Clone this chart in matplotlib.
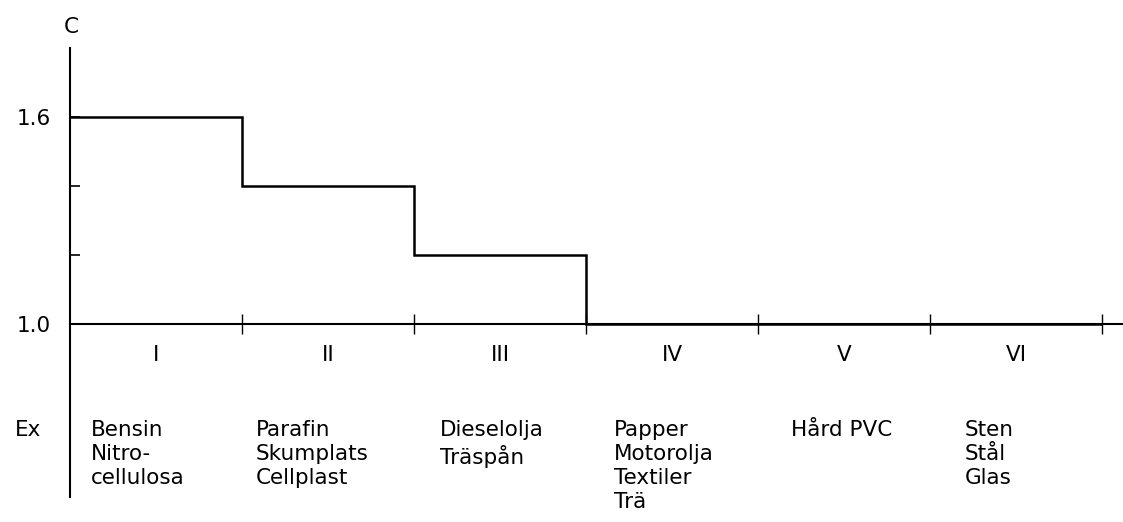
import numpy as np
import matplotlib.pyplot as plt

plt.rcParams['font.family'] = ['DejaVu Sans']

# klasser och C-värden
klasser = ['I', 'II', 'III', 'IV', 'V', 'VI']
c_varden = [1.6, 1.4, 1.2, 1.0, 1.0, 1.0]
kanter = np.arange(len(klasser) + 1)

# exempel per klass
exempel = [
    ['Bensin', 'Nitro-', 'cellulosa'],
    ['Parafin', 'Skumplats', 'Cellplast'],
    ['Dieselolja', 'Träspån'],
    ['Papper', 'Motorolja', 'Textiler', 'Trä'],
    ['Hård PVC'],
    ['Sten', 'Stål', 'Glas'],
]

y_ticks = [1.0, 1.2, 1.4, 1.6]
y_ticklabels = ['1.0', '', '', '1.6']

# layout (px -> data): y-axel vid x=70px, klassbredd 172px, 1.0 vid y=324px, 345px per enhet
textforskj = [0.12, 0.08, 0.15, 0.16, 0.19, 0.2]

fig = plt.figure(figsize=(11.23, 5.22), dpi=100)
ax = fig.add_axes([0, 0, 1, 1])
ax.set_xlim(-70 / 172, (1123 - 70) / 172)
ax.set_ylim(1.0 - (522 - 324) / 345, 1.0 + 324 / 345)

ax.stairs(c_varden, kanter, baseline=None, color='black', linewidth=1.8)

for s in ['top', 'right']:
    ax.spines[s].set_visible(False)
ax.spines['left'].set_position(('data', 0))
ax.spines['left'].set_bounds(0.5, 1.8)
ax.spines['bottom'].set_position(('data', 1.0))
ax.spines['bottom'].set_bounds(0, (1123 - 70) / 172)
for s in ['left', 'bottom']:
    ax.spines[s].set_linewidth(1.5)

ax.set_yticks(y_ticks)
ax.set_yticklabels(y_ticklabels)
ax.tick_params(axis='y', direction='in', length=7, width=1.2, pad=14, labelsize=15.5)
ax.set_xticks(kanter[1:])
ax.set_xticklabels([])
ax.tick_params(axis='x', direction='inout', length=14, width=1.0)

ax.text(0.01, 1.0 + (324 - 27) / 345, 'C', fontsize=15.5, ha='center', va='center')

y_roman = 1.0 - (355 - 324) / 345
y_ex = 1.0 - (420 - 324) / 345
for i, k in enumerate(klasser):
    ax.text(i + 0.5, y_roman, k, fontsize=15.5, ha='center', va='center')
    ax.text(i + textforskj[i], y_ex, '\n'.join(exempel[i]), fontsize=15.5,
            ha='left', va='top', linespacing=1.25)

ax.text(-42 / 172, y_ex, 'Ex', fontsize=15.5, ha='center', va='top')

fig.savefig('out.png', dpi=100)
